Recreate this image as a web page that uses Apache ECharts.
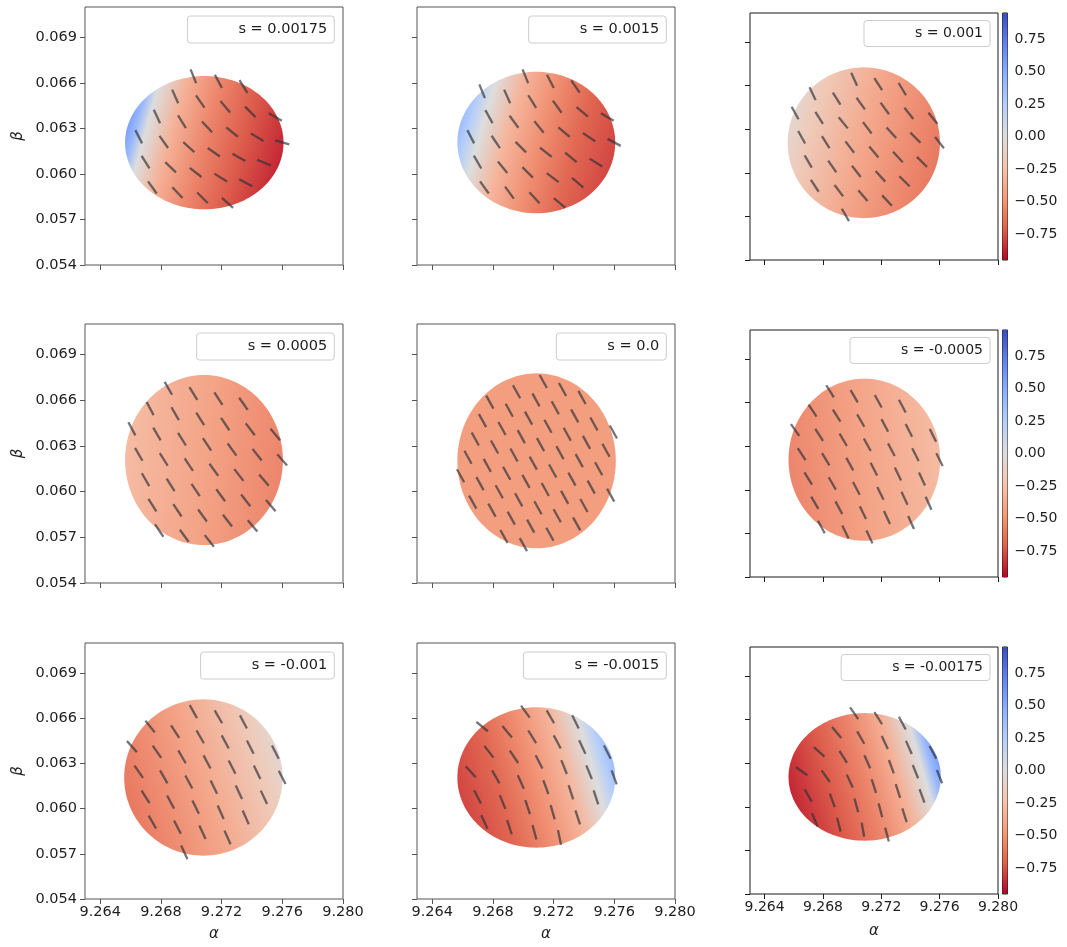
<!DOCTYPE html>
<html><head><meta charset="utf-8">
<script src="https://cdn.jsdelivr.net/npm/echarts@6/dist/echarts.min.js"></script>
<style>html,body{margin:0;padding:0;background:#fff}#c{width:1067px;height:947px}</style>
</head><body><div id="c"></div>
<script>
// ---------------- data ----------------
const sLabels = ['s = 0.00175','s = 0.0015','s = 0.001','s = 0.0005','s = 0.0','s = -0.0005','s = -0.001','s = -0.0015','s = -0.00175'];
const alphaRange = [9.263, 9.280];
const betaRange = [0.054, 0.071];
const alphaTicks = [9.264, 9.268, 9.272, 9.276, 9.280];
const betaTicks = [0.054, 0.057, 0.060, 0.063, 0.066, 0.069];
const cbarRange = [-0.95, 0.95];
const cbarTicks = [0.75, 0.5, 0.25, 0, -0.25, -0.5, -0.75];

// disk of each panel: [centre alpha, centre beta, half-width alpha, half-height beta]
const disks = [
  [9.27086, 0.06206, 0.00522, 0.00439],
  [9.27086, 0.06207, 0.00520, 0.00466],
  [9.27080, 0.06207, 0.00522, 0.00519],
  [9.27084, 0.06207, 0.00520, 0.00558],
  [9.27088, 0.06202, 0.00522, 0.00574],
  [9.27084, 0.06207, 0.00520, 0.00558],
  [9.27080, 0.06207, 0.00522, 0.00519],
  [9.27086, 0.06207, 0.00520, 0.00466],
  [9.27086, 0.06206, 0.00522, 0.00439]
];

// colour value of the field along each disk's gradient: [fraction, value]
const field1 = [[0,0.55],[0.05,0.42],[0.12,0.0],[0.29,-0.35],[0.50,-0.56],[0.73,-0.72],[1,-0.86]];
const field2 = [[0,0.38],[0.06,0.25],[0.14,0.0],[0.31,-0.32],[0.52,-0.52],[0.75,-0.68],[1,-0.78]];
const field3 = [[0,-0.05],[0.15,-0.18],[0.50,-0.40],[0.85,-0.56],[1,-0.62]];
const field4 = [[0,-0.28],[0.50,-0.42],[1,-0.56]];
const field5 = [[0,-0.45],[1,-0.45]];
const fields = [field1, field2, field3, field4, field5, field4, field3, field2, field1];

// quiver segments: [alpha, beta, angle in degrees]
const quiver1 = [
[9.27014,0.06644,-68],[9.27179,0.06610,-62],[9.27344,0.06576,-58],
[9.26894,0.06511,-66],[9.27059,0.06477,-55],[9.27224,0.06443,-50],[9.27389,0.06409,-45],[9.27554,0.06375,-30],
[9.26774,0.06378,-65],[9.26939,0.06344,-58],[9.27104,0.06310,-47],[9.27269,0.06276,-39],[9.27434,0.06242,-31],[9.27599,0.06208,-16],
[9.26654,0.06245,-63],[9.26819,0.06211,-55],[9.26984,0.06177,-42],[9.27149,0.06143,-35],[9.27314,0.06109,-30],[9.27479,0.06075,-22],
[9.26699,0.06078,-58],[9.26864,0.06044,-44],[9.27029,0.06010,-38],[9.27194,0.05976,-32],[9.27359,0.05942,-28],
[9.26744,0.05911,-54],[9.26909,0.05877,-47],[9.27074,0.05843,-45],[9.27239,0.05809,-42]
];
const quiver2 = [
[9.27014,0.06644,-68],[9.27179,0.06610,-63],[9.27344,0.06576,-56],
[9.26729,0.06545,-68],[9.26894,0.06511,-66],[9.27059,0.06477,-58],[9.27224,0.06443,-54],[9.27389,0.06409,-40],[9.27554,0.06375,-31],
[9.26774,0.06378,-61],[9.26939,0.06344,-54],[9.27104,0.06310,-51],[9.27269,0.06276,-40],[9.27434,0.06242,-34],[9.27599,0.06208,-28],
[9.26654,0.06245,-63],[9.26819,0.06211,-56],[9.26984,0.06177,-45],[9.27149,0.06143,-38],[9.27314,0.06109,-39],[9.27479,0.06075,-32],
[9.26699,0.06078,-60],[9.26864,0.06044,-51],[9.27029,0.06010,-45],[9.27194,0.05976,-37],[9.27359,0.05942,-40],
[9.26744,0.05911,-54],[9.26909,0.05877,-54],[9.27074,0.05843,-47],[9.27239,0.05809,-40]
];
const quiver3 = [
[9.27014,0.06644,-66],[9.27179,0.06610,-57],[9.27344,0.06576,-59],
[9.26729,0.06545,-65],[9.26894,0.06511,-58],[9.27059,0.06477,-54],[9.27224,0.06443,-54],[9.27389,0.06409,-52],[9.27554,0.06375,-51],
[9.26609,0.06412,-61],[9.26774,0.06378,-58],[9.26939,0.06344,-51],[9.27104,0.06310,-53],[9.27269,0.06276,-48],[9.27434,0.06242,-45],[9.27599,0.06208,-52],
[9.26654,0.06245,-61],[9.26819,0.06211,-58],[9.26984,0.06177,-53],[9.27149,0.06143,-50],[9.27314,0.06109,-47],[9.27479,0.06075,-45],
[9.26699,0.06078,-60],[9.26864,0.06044,-55],[9.27029,0.06010,-52],[9.27194,0.05976,-48],[9.27359,0.05942,-45],
[9.26744,0.05911,-57],[9.26909,0.05877,-53],[9.27074,0.05843,-50],[9.27239,0.05809,-47],
[9.26954,0.05710,-60]
];
const quiver4 = [
[9.26849,0.06678,-60],[9.27014,0.06644,-58],[9.27179,0.06610,-57],[9.27344,0.06576,-55],
[9.26729,0.06545,-62],[9.26894,0.06511,-60],[9.27059,0.06477,-58],[9.27224,0.06443,-56],[9.27389,0.06409,-53],[9.27554,0.06375,-50],
[9.26609,0.06412,-62],[9.26774,0.06378,-60],[9.26939,0.06344,-58],[9.27104,0.06310,-56],[9.27269,0.06276,-54],[9.27434,0.06242,-52],[9.27599,0.06208,-49],
[9.26654,0.06245,-60],[9.26819,0.06211,-58],[9.26984,0.06177,-56],[9.27149,0.06143,-54],[9.27314,0.06109,-52],[9.27479,0.06075,-50],
[9.26699,0.06078,-60],[9.26864,0.06044,-58],[9.27029,0.06010,-56],[9.27194,0.05976,-54],[9.27359,0.05942,-52],[9.27524,0.05908,-50],
[9.26744,0.05911,-58],[9.26909,0.05877,-56],[9.27074,0.05843,-54],[9.27239,0.05809,-52],[9.27404,0.05775,-50],
[9.26789,0.05744,-56],[9.26954,0.05710,-54],[9.27119,0.05676,-52]
];
const quiver5 = [
[9.27132,0.06723,-61],[9.27259,0.06670,-61],[9.27387,0.06618,-61],
[9.26956,0.06655,-61],[9.27084,0.06602,-61],[9.27211,0.06550,-61],[9.27339,0.06497,-61],[9.27466,0.06444,-61],[9.27594,0.06391,-61],
[9.26780,0.06587,-61],[9.26908,0.06534,-61],[9.27035,0.06482,-61],[9.27163,0.06429,-61],[9.27290,0.06376,-61],[9.27417,0.06323,-61],[9.27545,0.06271,-61],
[9.26732,0.06466,-61],[9.26860,0.06414,-61],[9.26987,0.06361,-61],[9.27114,0.06308,-61],[9.27242,0.06256,-61],[9.27369,0.06203,-61],[9.27497,0.06150,-61],
[9.26684,0.06345,-61],[9.26811,0.06293,-61],[9.26939,0.06240,-61],[9.27066,0.06187,-61],[9.27194,0.06135,-61],[9.27321,0.06082,-61],[9.27448,0.06029,-61],[9.27576,0.05977,-61],
[9.26636,0.06225,-61],[9.26763,0.06172,-61],[9.26891,0.06120,-61],[9.27018,0.06067,-61],[9.27145,0.06014,-61],[9.27273,0.05962,-61],[9.27400,0.05909,-61],
[9.26587,0.06104,-61],[9.26715,0.06052,-61],[9.26842,0.05999,-61],[9.26970,0.05946,-61],[9.27097,0.05894,-61],[9.27224,0.05841,-61],[9.27352,0.05788,-61],
[9.26667,0.05931,-61],[9.26794,0.05878,-61],[9.26921,0.05826,-61],[9.27049,0.05773,-61],[9.27176,0.05720,-61],
[9.26873,0.05705,-61],[9.27001,0.05652,-61]
];
const quiver6 = [
[9.26849,0.06678,-58],[9.27014,0.06644,-60],[9.27179,0.06610,-61],[9.27344,0.06576,-62],
[9.26729,0.06545,-56],[9.26894,0.06511,-58],[9.27059,0.06477,-60],[9.27224,0.06443,-62],[9.27389,0.06409,-63],[9.27554,0.06375,-64],
[9.26609,0.06412,-55],[9.26774,0.06378,-57],[9.26939,0.06344,-59],[9.27104,0.06310,-61],[9.27269,0.06276,-62],[9.27434,0.06242,-63],[9.27599,0.06208,-64],
[9.26654,0.06245,-57],[9.26819,0.06211,-59],[9.26984,0.06177,-61],[9.27149,0.06143,-63],[9.27314,0.06109,-64],[9.27479,0.06075,-65],
[9.26699,0.06078,-58],[9.26864,0.06044,-60],[9.27029,0.06010,-62],[9.27194,0.05976,-64],[9.27359,0.05942,-65],[9.27524,0.05908,-66],
[9.26744,0.05911,-60],[9.26909,0.05877,-62],[9.27074,0.05843,-64],[9.27239,0.05809,-65],[9.27404,0.05775,-66],
[9.26789,0.05744,-62],[9.26954,0.05710,-64],[9.27119,0.05676,-65]
];
const quiver7 = [
[9.27014,0.06644,-61],[9.27179,0.06610,-60],[9.27344,0.06576,-62],
[9.26729,0.06545,-51],[9.26894,0.06511,-57],[9.27059,0.06477,-60],[9.27224,0.06443,-62],[9.27389,0.06409,-63],[9.27554,0.06375,-63],
[9.26609,0.06412,-48],[9.26774,0.06378,-55],[9.26939,0.06344,-60],[9.27104,0.06310,-62],[9.27269,0.06276,-63],[9.27434,0.06242,-64],[9.27599,0.06208,-63],
[9.26654,0.06245,-55],[9.26819,0.06211,-60],[9.26984,0.06177,-62],[9.27149,0.06143,-64],[9.27314,0.06109,-65],[9.27479,0.06075,-65],
[9.26699,0.06078,-58],[9.26864,0.06044,-62],[9.27029,0.06010,-64],[9.27194,0.05976,-66],[9.27359,0.05942,-66],
[9.26744,0.05911,-60],[9.26909,0.05877,-63],[9.27074,0.05843,-65],[9.27239,0.05809,-66],
[9.26954,0.05710,-65]
];
const quiver8 = [
[9.27014,0.06644,-54],[9.27179,0.06610,-60],[9.27344,0.06576,-64],
[9.26729,0.06545,-39],[9.26894,0.06511,-50],[9.27059,0.06477,-58],[9.27224,0.06443,-62],[9.27389,0.06409,-65],[9.27554,0.06375,-63],
[9.26774,0.06378,-52],[9.26939,0.06344,-56],[9.27104,0.06310,-63],[9.27269,0.06276,-68],[9.27434,0.06242,-68],[9.27599,0.06208,-70],
[9.26654,0.06245,-48],[9.26819,0.06211,-60],[9.26984,0.06177,-66],[9.27149,0.06143,-70],[9.27314,0.06109,-72],[9.27479,0.06075,-72],
[9.26699,0.06078,-63],[9.26864,0.06044,-68],[9.27029,0.06010,-72],[9.27194,0.05976,-74],[9.27359,0.05942,-72],
[9.26744,0.05911,-65],[9.26909,0.05877,-72],[9.27074,0.05843,-75],[9.27239,0.05809,-78]
];
const quiver9 = [
[9.27014,0.06644,-55],[9.27179,0.06610,-58],[9.27344,0.06576,-62],
[9.26894,0.06511,-50],[9.27059,0.06477,-60],[9.27224,0.06443,-65],[9.27389,0.06409,-66],[9.27554,0.06375,-62],
[9.26774,0.06378,-42],[9.26939,0.06344,-58],[9.27104,0.06310,-66],[9.27269,0.06276,-70],[9.27434,0.06242,-68],[9.27599,0.06208,-68],
[9.26654,0.06245,-36],[9.26819,0.06211,-55],[9.26984,0.06177,-65],[9.27149,0.06143,-72],[9.27314,0.06109,-72],[9.27479,0.06075,-70],
[9.26699,0.06078,-60],[9.26864,0.06044,-70],[9.27029,0.06010,-75],[9.27194,0.05976,-75],[9.27359,0.05942,-72],
[9.26744,0.05911,-68],[9.26909,0.05877,-76],[9.27074,0.05843,-80],[9.27239,0.05809,-75]
];
const quivers = [quiver1, quiver2, quiver3, quiver4, quiver5, quiver6, quiver7, quiver8, quiver9];

// coolwarm colour map (reversed when used: high values blue)
const cmapPos = [0, 0.125, 0.25, 0.375, 0.5, 0.625, 0.75, 0.875, 1];
const cmapRGB = [[59,76,192],[98,130,234],[141,176,254],[184,208,249],[221,221,221],[245,196,173],[244,154,123],[222,96,77],[180,4,38]];

// ---------------- layout / style ----------------
const FONT = 'DejaVu Sans';
const SEG_LEN = 0.00098;            // quiver segment length in alpha units
const SEG_COLOR = 'rgba(45,50,58,0.68)';
const panelBoxes = [
  {left:85, top:7, width:258, height:258},
  {left:417, top:7, width:258, height:258},
  {left:750, top:13, width:248, height:247},
  {left:85, top:324, width:258, height:259},
  {left:417, top:324, width:258, height:259},
  {left:750, top:330, width:248, height:247},
  {left:85, top:643, width:258, height:256},
  {left:417, top:643, width:258, height:256},
  {left:750, top:647, width:248, height:247}
];
// gradient geometry of each disk (start and end point relative to the disk's bounding box)
const fieldGeom = [
  [0.014, 0.383, 0.964, 0.707],
  [0.016, 0.375, 0.969, 0.680],
  [0, 0.35, 1, 0.65],
  [0, 0.45, 1, 0.55],
  [0, 0.5, 1, 0.5],
  [1, 0.45, 0, 0.55],
  [1, 0.35, 0, 0.65],
  [0.984, 0.375, 0.031, 0.680],
  [0.986, 0.383, 0.036, 0.707]
];

function cmap(v) {
  const t = (v - cbarRange[0]) / (cbarRange[1] - cbarRange[0]);
  const u = Math.min(1, Math.max(0, 1 - t));
  for (let m = 0; m < cmapPos.length - 1; m++) {
    if (u <= cmapPos[m + 1]) {
      const f = (u - cmapPos[m]) / (cmapPos[m + 1] - cmapPos[m]);
      const a = cmapRGB[m], b = cmapRGB[m + 1];
      return 'rgb(' + [0,1,2].map(c => Math.round(a[c] + (b[c] - a[c]) * f)).join(',') + ')';
    }
  }
  const l = cmapRGB[cmapRGB.length - 1];
  return 'rgb(' + l.join(',') + ')';
}
function fieldFill(k) {
  const stops = fields[k].map(s => ({offset: s[0], color: cmap(s[1])}));
  const g = fieldGeom[k];
  return new echarts.graphic.LinearGradient(g[0], g[1], g[2], g[3], stops);
}

const grids = [], xAxes = [], yAxes = [], series = [], legends = [];
panelBoxes.forEach((b, k) => {
  const col = k % 3, row = Math.floor(k / 3);
  const rightCol = col === 2;
  const spine = rightCol ? '#1a1a1a' : '#555';
  const fs = rightCol ? 14 : 14.5;
  grids.push({left: b.left, top: b.top, width: b.width, height: b.height, show: true,
    borderColor: spine, borderWidth: 1, backgroundColor: '#fff', containLabel: false, outerBoundsMode: 'none'});
  xAxes.push({type: 'value', gridIndex: k, min: alphaRange[0], max: alphaRange[1],
    axisLine: {show: false}, splitLine: {show: false},
    axisTick: {show: true, length: 5, customValues: alphaTicks, lineStyle: {color: spine, width: 1}},
    axisLabel: {show: row === 2, customValues: alphaTicks, formatter: v => v.toFixed(3), fontSize: fs,
      color: '#1e1e1e', margin: 6, fontFamily: FONT},
    name: row === 2 ? 'α' : '', nameLocation: 'middle', nameGap: rightCol ? 30 : 28,
    nameTextStyle: {fontFamily: FONT, fontStyle: 'italic', fontSize: 15, color: '#1e1e1e'}});
  yAxes.push({type: 'value', gridIndex: k, min: betaRange[0], max: betaRange[1],
    axisLine: {show: false}, splitLine: {show: false},
    axisTick: {show: true, length: 5, customValues: betaTicks, lineStyle: {color: spine, width: 1}},
    axisLabel: {show: col === 0, customValues: betaTicks, formatter: v => v.toFixed(3), fontSize: fs,
      color: '#1e1e1e', margin: 8, fontFamily: FONT},
    name: col === 0 ? 'β' : '', nameLocation: 'middle', nameGap: 59,
    nameTextStyle: {fontFamily: FONT, fontStyle: 'italic', fontSize: 15, color: '#1e1e1e'}});
  series.push({type: 'custom', name: sLabels[k], coordinateSystem: 'cartesian2d', xAxisIndex: k, yAxisIndex: k,
    clip: false, silent: true, data: [disks[k]],
    renderItem: (params, api) => {
      const ca = api.value(0), cb = api.value(1), ra = api.value(2), rb = api.value(3);
      const pts = [];
      for (let q = 0; q < 144; q++) {
        const th = q / 144 * 2 * Math.PI;
        pts.push(api.coord([ca + ra * Math.cos(th), cb + rb * Math.sin(th)]));
      }
      return {type: 'polygon', shape: {points: pts}, style: {fill: fieldFill(k), stroke: null}};
    }});
  series.push({type: 'custom', name: 'quiver' + k, coordinateSystem: 'cartesian2d', xAxisIndex: k, yAxisIndex: k,
    clip: false, silent: true, data: quivers[k], z: 3,
    renderItem: (params, api) => {
      const p = api.coord([api.value(0), api.value(1)]);
      const half = api.size([SEG_LEN, 0])[0] / 2;
      const th = api.value(2) * Math.PI / 180;
      const dx = Math.cos(th) * half, dy = -Math.sin(th) * half;
      return {type: 'line', shape: {x1: p[0] - dx, y1: p[1] - dy, x2: p[0] + dx, y2: p[1] + dy},
        style: {stroke: SEG_COLOR, lineWidth: 2.3, lineCap: 'butt'}};
    }});
  legends.push({data: [{name: sLabels[k], icon: 'rect', itemStyle: {opacity: 0}}],
    right: 1067 - (b.left + b.width) + (rightCol ? 8 : 8.7), top: b.top + (rightCol ? 7.5 : 9),
    orient: 'horizontal', itemWidth: 40, itemHeight: 14, padding: [6, 7, 6, 6],
    backgroundColor: 'rgba(255,255,255,0.8)', borderColor: '#cccccc', borderWidth: 1, borderRadius: 3,
    selectedMode: false, textStyle: {fontSize: rightCol ? 14 : 14.5, color: '#1e1e1e', fontFamily: FONT}});
});

// colour bars beside the right column
[2, 5, 8].forEach(k => {
  const b = panelBoxes[k];
  const gi = grids.length;
  grids.push({left: 1002.5, top: b.top, width: 5, height: b.height, show: true, borderColor: '#1a1a1a',
    borderWidth: 1, containLabel: false, outerBoundsMode: 'none'});
  xAxes.push({type: 'value', gridIndex: gi, min: 0, max: 1, show: false});
  yAxes.push({type: 'value', gridIndex: gi, min: cbarRange[0], max: cbarRange[1], position: 'right',
    axisLine: {show: false}, splitLine: {show: false},
    axisTick: {show: true, length: 4, customValues: cbarTicks, lineStyle: {color: '#1a1a1a'}},
    axisLabel: {show: true, customValues: cbarTicks, margin: 7, fontSize: 14, color: '#1e1e1e', fontFamily: FONT,
      formatter: v => (v < 0 ? '\u2212' : '') + Math.abs(v).toFixed(2)}});
  series.push({type: 'custom', name: 'cbar' + k, coordinateSystem: 'cartesian2d', xAxisIndex: gi, yAxisIndex: gi,
    silent: true, clip: false, data: [cbarRange],
    renderItem: (params, api) => {
      const p0 = api.coord([0, api.value(1)]);
      const p1 = api.coord([1, api.value(0)]);
      const stops = cmapPos.map((u, m) => ({offset: u, color: 'rgb(' + cmapRGB[m].join(',') + ')'}));
      return {type: 'rect', shape: {x: p0[0], y: p0[1], width: p1[0] - p0[0], height: p1[1] - p0[1]},
        style: {fill: new echarts.graphic.LinearGradient(0, 0, 0, 1, stops)}};
    }});
});

const chart = echarts.init(document.getElementById('c'), null, {renderer: 'canvas'});
chart.setOption({
  animation: false,
  backgroundColor: '#fff',
  textStyle: {fontFamily: FONT},
  grid: grids, xAxis: xAxes, yAxis: yAxes, legend: legends, series: series
});
</script>
</body></html>
